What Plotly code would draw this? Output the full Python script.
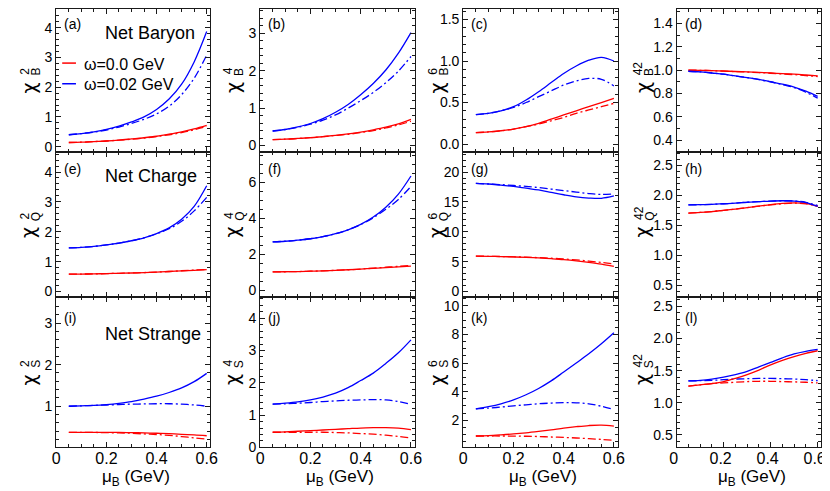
import plotly.graph_objects as go

W, H = 830, 491

mu_B = [0.05, 0.10, 0.15, 0.20, 0.25, 0.30, 0.35, 0.40, 0.45, 0.50, 0.55, 0.60]

# net baryon
b2_w0 = [0.14, 0.15, 0.17, 0.19, 0.22, 0.26, 0.30, 0.35, 0.42, 0.50, 0.60, 0.72]
b2_w0_alt = [0.14, 0.15, 0.17, 0.19, 0.22, 0.25, 0.29, 0.34, 0.40, 0.47, 0.57, 0.68]
b2_w2 = [0.40, 0.44, 0.50, 0.58, 0.69, 0.83, 1.00, 1.25, 1.60, 2.10, 2.85, 3.87]
b2_w2_alt = [0.40, 0.44, 0.49, 0.56, 0.66, 0.78, 0.92, 1.10, 1.36, 1.75, 2.30, 3.08]

b4_w0 = [0.16, 0.17, 0.19, 0.21, 0.24, 0.27, 0.31, 0.36, 0.42, 0.49, 0.58, 0.70]
b4_w0_alt = [0.16, 0.17, 0.19, 0.21, 0.24, 0.27, 0.30, 0.35, 0.40, 0.47, 0.55, 0.65]
b4_w2 = [0.39, 0.43, 0.50, 0.59, 0.72, 0.89, 1.10, 1.36, 1.66, 2.02, 2.47, 3.02]
b4_w2_alt = [0.39, 0.43, 0.49, 0.57, 0.68, 0.82, 1.00, 1.20, 1.42, 1.68, 1.99, 2.38]

b6_w0 = [0.137, 0.145, 0.16, 0.18, 0.21, 0.25, 0.30, 0.35, 0.40, 0.45, 0.50, 0.55]
b6_w0_alt = [0.137, 0.145, 0.16, 0.18, 0.21, 0.24, 0.28, 0.32, 0.37, 0.41, 0.45, 0.49]
b6_w2 = [0.355, 0.37, 0.40, 0.45, 0.53, 0.63, 0.74, 0.85, 0.94, 1.01, 1.045, 1.0]
b6_w2_alt = [0.355, 0.37, 0.40, 0.44, 0.50, 0.57, 0.64, 0.71, 0.76, 0.79, 0.78, 0.70]

b42_w0 = [1.0, 0.998, 0.995, 0.992, 0.988, 0.984, 0.98, 0.975, 0.97, 0.965, 0.958, 0.95]
b42_w0_alt = [1.0, 0.998, 0.995, 0.991, 0.987, 0.983, 0.978, 0.973, 0.967, 0.961, 0.953, 0.945]
b42_w2 = [0.99, 0.985, 0.975, 0.965, 0.95, 0.935, 0.92, 0.90, 0.88, 0.855, 0.82, 0.775]
b42_w2_alt = [0.99, 0.985, 0.975, 0.965, 0.95, 0.935, 0.918, 0.898, 0.876, 0.85, 0.81, 0.76]

# net charge
q2_w0 = [0.58, 0.585, 0.59, 0.60, 0.61, 0.62, 0.635, 0.65, 0.67, 0.69, 0.71, 0.73]
q2_w0_alt = [0.58, 0.585, 0.59, 0.60, 0.61, 0.62, 0.635, 0.65, 0.67, 0.695, 0.72, 0.74]
q2_w2 = [1.46, 1.48, 1.51, 1.56, 1.62, 1.70, 1.80, 1.94, 2.13, 2.42, 2.85, 3.54]
q2_w2_alt = [1.46, 1.48, 1.51, 1.56, 1.62, 1.70, 1.80, 1.93, 2.10, 2.35, 2.70, 3.15]

q4_w0 = [1.01, 1.02, 1.03, 1.05, 1.07, 1.10, 1.13, 1.17, 1.21, 1.25, 1.29, 1.33]
q4_w0_alt = [1.01, 1.02, 1.03, 1.05, 1.07, 1.10, 1.13, 1.17, 1.22, 1.27, 1.32, 1.37]
q4_w2 = [2.69, 2.72, 2.78, 2.86, 2.98, 3.14, 3.36, 3.66, 4.07, 4.62, 5.35, 6.36]
q4_w2_alt = [2.69, 2.72, 2.78, 2.86, 2.98, 3.14, 3.36, 3.65, 4.03, 4.50, 5.05, 5.78]

q6_w0 = [5.92, 5.90, 5.86, 5.80, 5.73, 5.63, 5.50, 5.35, 5.15, 4.90, 4.60, 4.20]
q6_w0_alt = [5.92, 5.90, 5.87, 5.82, 5.76, 5.68, 5.58, 5.46, 5.30, 5.10, 4.88, 4.62]
q6_w2 = [18.1, 18.0, 17.8, 17.6, 17.3, 17.0, 16.6, 16.2, 15.85, 15.65, 15.6, 16.0]
q6_w2_alt = [18.1, 18.0, 17.9, 17.75, 17.6, 17.4, 17.15, 16.9, 16.65, 16.4, 16.25, 16.35]

q42_w0 = [1.705, 1.715, 1.73, 1.75, 1.77, 1.795, 1.82, 1.845, 1.865, 1.875, 1.865, 1.815]
q42_w0_alt = [1.705, 1.715, 1.73, 1.75, 1.77, 1.795, 1.82, 1.84, 1.86, 1.87, 1.86, 1.82]
q42_w2 = [1.84, 1.845, 1.85, 1.86, 1.87, 1.885, 1.895, 1.905, 1.91, 1.905, 1.88, 1.815]
q42_w2_alt = [1.84, 1.845, 1.85, 1.86, 1.87, 1.885, 1.895, 1.905, 1.91, 1.905, 1.885, 1.83]

# net strange
s2_w0 = [0.37, 0.37, 0.37, 0.37, 0.37, 0.365, 0.36, 0.35, 0.34, 0.325, 0.31, 0.29]
s2_w0_alt = [0.37, 0.37, 0.37, 0.365, 0.36, 0.35, 0.335, 0.32, 0.30, 0.27, 0.24, 0.21]
s2_w2 = [1.0, 1.01, 1.02, 1.04, 1.07, 1.11, 1.17, 1.24, 1.33, 1.44, 1.59, 1.79]
s2_w2_alt = [1.0, 1.01, 1.02, 1.03, 1.04, 1.05, 1.055, 1.06, 1.06, 1.05, 1.03, 1.0]

s4_w0 = [0.47, 0.48, 0.50, 0.52, 0.54, 0.56, 0.58, 0.60, 0.61, 0.615, 0.60, 0.55]
s4_w0_alt = [0.47, 0.47, 0.47, 0.47, 0.47, 0.46, 0.45, 0.43, 0.41, 0.38, 0.34, 0.29]
s4_w2 = [1.34, 1.37, 1.41, 1.47, 1.56, 1.68, 1.85, 2.07, 2.30, 2.60, 2.93, 3.33]
s4_w2_alt = [1.34, 1.35, 1.37, 1.39, 1.42, 1.44, 1.46, 1.47, 1.48, 1.47, 1.42, 1.33]

s6_w0 = [0.90, 0.93, 0.98, 1.04, 1.12, 1.22, 1.33, 1.45, 1.55, 1.63, 1.66, 1.59]
s6_w0_alt = [0.90, 0.90, 0.90, 0.89, 0.88, 0.86, 0.83, 0.80, 0.76, 0.71, 0.66, 0.60]
s6_w2 = [2.80, 2.95, 3.15, 3.42, 3.78, 4.22, 4.75, 5.37, 6.00, 6.65, 7.35, 8.12]
s6_w2_alt = [2.80, 2.85, 2.92, 3.00, 3.08, 3.15, 3.20, 3.23, 3.22, 3.15, 2.98, 2.74]

s42_w0 = [1.26, 1.28, 1.30, 1.33, 1.38, 1.44, 1.51, 1.59, 1.66, 1.72, 1.77, 1.81]
s42_w0_alt = [1.26, 1.28, 1.30, 1.31, 1.32, 1.33, 1.335, 1.335, 1.33, 1.325, 1.32, 1.31]
s42_w2 = [1.34, 1.35, 1.37, 1.40, 1.44, 1.49, 1.56, 1.63, 1.70, 1.76, 1.80, 1.83]
s42_w2_alt = [1.34, 1.345, 1.35, 1.36, 1.37, 1.375, 1.38, 1.38, 1.375, 1.37, 1.36, 1.345]

panel_labels = ["(a)", "(b)", "(c)", "(d)", "(e)", "(f)", "(g)", "(h)", "(i)", "(j)", "(k)", "(l)"]
orders = ["2", "4", "6", "42"]
charges = ["B", "Q", "S"]
row_names = ["Net Baryon", "Net Charge", "Net Strange"]
legend_names = ["ω=0.0 GeV", "ω=0.02 GeV"]

curves = [
    (b2_w0, b2_w0_alt, b2_w2, b2_w2_alt),
    (b4_w0, b4_w0_alt, b4_w2, b4_w2_alt),
    (b6_w0, b6_w0_alt, b6_w2, b6_w2_alt),
    (b42_w0, b42_w0_alt, b42_w2, b42_w2_alt),
    (q2_w0, q2_w0_alt, q2_w2, q2_w2_alt),
    (q4_w0, q4_w0_alt, q4_w2, q4_w2_alt),
    (q6_w0, q6_w0_alt, q6_w2, q6_w2_alt),
    (q42_w0, q42_w0_alt, q42_w2, q42_w2_alt),
    (s2_w0, s2_w0_alt, s2_w2, s2_w2_alt),
    (s4_w0, s4_w0_alt, s4_w2, s4_w2_alt),
    (s6_w0, s6_w0_alt, s6_w2, s6_w2_alt),
    (s42_w0, s42_w0_alt, s42_w2, s42_w2_alt),
]

# y range, major dtick, minor dtick, tick format
yaxes_cfg = [
    ([-0.19, 4.63], 1, 0.2, ""), ([-0.18, 3.65], 1, 0.2, ""), ([-0.10, 1.627], 0.5, 0.1, ".1f"), ([0.295, 1.524], 0.2, 0.1, ".1f"),
    ([-0.19, 4.66], 1, 0.2, ""), ([-0.40, 7.68], 2, 0.5, ""), ([-0.94, 23.3], 5, 1, ""), ([0.298, 2.72], 0.5, 0.1, ".1f"),
    ([0.01, 3.62], 1, 0.2, ""), ([0.0, 4.65], 1, 0.2, ""), ([0.1, 10.6], 2, 0.5, ""), ([0.306, 2.643], 0.5, 0.1, ".1f"),
]

# panel geometry in pixels
col_px = [(42, 198.8), (249.3, 406.6), (456, 613), (673, 820)]
row_px = [(1, 146.7), (146.7, 294), (294, 446.7)]
ytitle_x = [14, 221, 429, 638]
ytitle_y = [81, 228, 378]
plabel_y = [16, 164, 315]
name_y = [25, 171, 331]

RED, BLUE = "#ff0000", "#0000ff"
DASHDOT = "8px,3px,2px,3px"
FONT = "Liberation Sans, Arial, sans-serif"
AX = "#1a1a1a"


def px(xp):
    return xp / W


def py(yp):
    return 1 - yp / H


fig = go.Figure()
annotations = []
shapes = []

for i in range(12):
    r, c = divmod(i, 4)
    n = "" if i == 0 else str(i + 1)
    w0, w0_alt, w2, w2_alt = curves[i]
    for ys, color, dash in [(w0_alt, RED, DASHDOT), (w2_alt, BLUE, DASHDOT), (w0, RED, "solid"), (w2, BLUE, "solid")]:
        fig.add_trace(go.Scatter(
            x=mu_B, y=ys, mode="lines",
            line=dict(color=color, width=1.3, dash=dash, shape="spline"),
            xaxis="x" + n, yaxis="y" + n, showlegend=False, hoverinfo="skip",
        ))
    yr, ydt, ymin, yfmt = yaxes_cfg[i]
    fig.update_layout(**{
        "xaxis" + n: dict(
            domain=[px(col_px[c][0]), px(col_px[c][1])], anchor="y" + n,
            range=[0, 0.615], tick0=0, dtick=0.2,
            ticks="inside", ticklen=5, tickwidth=1, tickcolor=AX,
            minor=dict(dtick=0.05, ticks="inside", ticklen=3, tickwidth=1, tickcolor=AX),
            showline=True, linecolor=AX, linewidth=1.2, mirror="ticks",
            showgrid=False, zeroline=False, showticklabels=(r == 2),
            ticklabelstandoff=-4, ticklabeloverflow="allow",
            ticklabelshift=(-3 if c == 3 else 0),
            tickfont=dict(family=FONT, size=16, color="black"),
        ),
        "yaxis" + n: dict(
            domain=[py(row_px[r][1]), py(row_px[r][0])], anchor="x" + n,
            range=yr, tick0=0, dtick=ydt, tickformat=yfmt,
            ticks="inside", ticklen=5, tickwidth=1, tickcolor=AX,
            minor=dict(dtick=ymin, ticks="inside", ticklen=3, tickwidth=1, tickcolor=AX),
            showline=True, linecolor=AX, linewidth=1.2, mirror="ticks",
            showgrid=False, zeroline=False,
            tickfont=dict(family=FONT, size=14, color="black"),
        ),
    })

    # panel label
    annotations.append(dict(
        text=panel_labels[i], x=px(col_px[c][0] + 6), y=py(plabel_y[r]),
        xref="paper", yref="paper", xanchor="left", yanchor="middle",
        showarrow=False, font=dict(family=FONT, size=14, color="black"),
    ))
    # y title: chi with stacked superscript / subscript
    tx, ty = ytitle_x[c], ytitle_y[r]
    annotations.append(dict(
        text="χ", x=px(tx), y=py(ty), xref="paper", yref="paper",
        xanchor="center", yanchor="middle", textangle=-90, showarrow=False,
        font=dict(family="DejaVu Sans, sans-serif", size=19, color="black"),
    ))
    annotations.append(dict(
        text=orders[c], x=px(tx - 4), y=py(ty - 17 - 3 * (len(orders[c]) - 1)), xref="paper", yref="paper",
        xanchor="center", yanchor="middle", textangle=-90, showarrow=False,
        font=dict(family=FONT, size=12, color="black"),
    ))
    annotations.append(dict(
        text=charges[r], x=px(tx + 7), y=py(ty - 16), xref="paper", yref="paper",
        xanchor="center", yanchor="middle", textangle=-90, showarrow=False,
        font=dict(family=FONT, size=12, color="black"),
    ))

# row names
for r in range(3):
    annotations.append(dict(
        text=row_names[r], x=px(90), y=py(name_y[r]), xref="paper", yref="paper",
        xanchor="left", yanchor="middle", showarrow=False,
        font=dict(family=FONT, size=18, color="black"),
    ))

# x titles
for c in range(4):
    annotations.append(dict(
        text="μ<sub>B</sub> (GeV)", x=px((col_px[c][0] + col_px[c][1]) / 2 + 3), y=py(465),
        xref="paper", yref="paper", xanchor="center", yanchor="top", showarrow=False,
        font=dict(family=FONT, size=17, color="black"),
    ))

# legend in panel (a)
for k, (name, color, yl) in enumerate([(legend_names[0], RED, 56), (legend_names[1], BLUE, 77)]):
    shapes.append(dict(
        type="line", xref="paper", yref="paper",
        x0=px(48), x1=px(62), y0=py(yl), y1=py(yl),
        line=dict(color=color, width=1.5),
    ))
    annotations.append(dict(
        text=name, x=px(68), y=py(yl + 1), xref="paper", yref="paper",
        xanchor="left", yanchor="middle", showarrow=False,
        font=dict(family=FONT, size=16, color="black"),
    ))

fig.update_layout(
    width=W, height=H, autosize=False,
    margin=dict(l=0, r=0, t=0, b=0),
    paper_bgcolor="white", plot_bgcolor="white",
    annotations=annotations, shapes=shapes,
    showlegend=False,
)

fig.write_html("out.html")
